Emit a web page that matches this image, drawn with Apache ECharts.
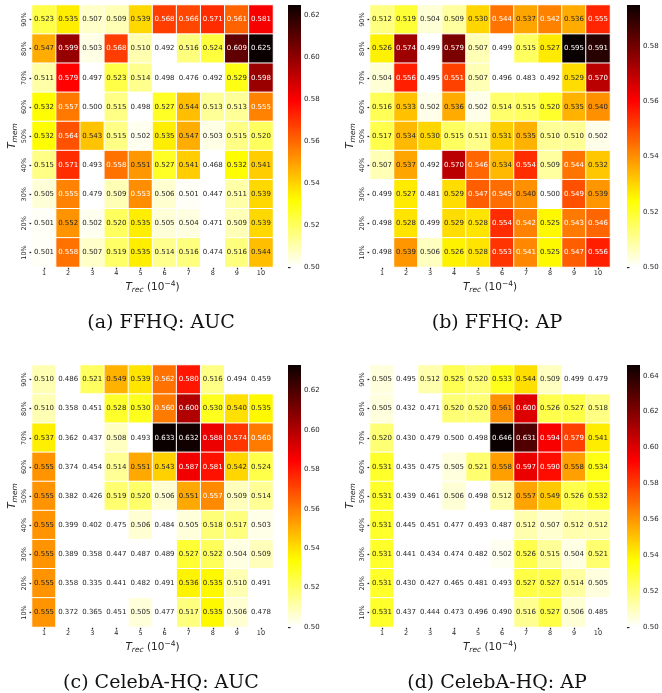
<!DOCTYPE html>
<html><head><meta charset="utf-8">
<script src="https://cdn.jsdelivr.net/npm/echarts@6/dist/echarts.min.js"></script>
<style>html,body{margin:0;padding:0;background:#fff}#c{width:662px;height:693px}</style>
</head><body><div id="c"></div>
<script>
// ---------- data ----------
const xCats = ['1','2','3','4','5','6','7','8','9','10'];
const yCats = ['10%','20%','30%','40%','50%','60%','70%','80%','90%'];
// rows listed from top (90%) to bottom (10%)
const ffhqAUC = [
 [0.523,0.535,0.507,0.509,0.539,0.568,0.566,0.571,0.561,0.581],
 [0.547,0.599,0.503,0.568,0.510,0.492,0.516,0.524,0.609,0.625],
 [0.511,0.579,0.497,0.523,0.514,0.498,0.476,0.492,0.529,0.598],
 [0.532,0.557,0.500,0.515,0.498,0.527,0.544,0.513,0.513,0.555],
 [0.532,0.564,0.543,0.515,0.502,0.535,0.547,0.503,0.515,0.520],
 [0.515,0.571,0.493,0.558,0.551,0.527,0.541,0.468,0.532,0.541],
 [0.505,0.555,0.479,0.509,0.553,0.506,0.501,0.447,0.511,0.539],
 [0.501,0.552,0.502,0.520,0.535,0.505,0.504,0.471,0.509,0.539],
 [0.501,0.558,0.507,0.519,0.535,0.514,0.516,0.474,0.516,0.544]];
const ffhqAP = [
 [0.512,0.519,0.504,0.509,0.530,0.544,0.537,0.542,0.536,0.555],
 [0.526,0.574,0.499,0.579,0.507,0.499,0.515,0.527,0.595,0.591],
 [0.504,0.556,0.495,0.551,0.507,0.496,0.483,0.492,0.529,0.570],
 [0.516,0.533,0.502,0.536,0.502,0.514,0.515,0.520,0.535,0.540],
 [0.517,0.534,0.530,0.515,0.511,0.531,0.535,0.510,0.510,0.502],
 [0.507,0.537,0.492,0.570,0.546,0.534,0.554,0.509,0.544,0.532],
 [0.499,0.527,0.481,0.529,0.547,0.545,0.540,0.500,0.549,0.539],
 [0.498,0.528,0.499,0.529,0.528,0.554,0.542,0.525,0.543,0.546],
 [0.498,0.539,0.506,0.526,0.528,0.553,0.541,0.525,0.547,0.556]];
const celebAUC = [
 [0.510,0.486,0.521,0.549,0.539,0.562,0.580,0.516,0.494,0.459],
 [0.510,0.358,0.451,0.528,0.530,0.560,0.600,0.530,0.540,0.535],
 [0.537,0.362,0.437,0.508,0.493,0.633,0.632,0.588,0.574,0.560],
 [0.555,0.374,0.454,0.514,0.551,0.543,0.587,0.581,0.542,0.524],
 [0.555,0.382,0.426,0.519,0.520,0.506,0.551,0.557,0.509,0.514],
 [0.555,0.399,0.402,0.475,0.506,0.484,0.505,0.518,0.517,0.503],
 [0.555,0.389,0.358,0.447,0.487,0.489,0.527,0.522,0.504,0.509],
 [0.555,0.358,0.335,0.441,0.482,0.491,0.536,0.535,0.510,0.491],
 [0.555,0.372,0.365,0.451,0.505,0.477,0.517,0.535,0.506,0.478]];
const celebAP = [
 [0.505,0.495,0.512,0.525,0.520,0.533,0.544,0.509,0.499,0.479],
 [0.505,0.432,0.471,0.520,0.520,0.561,0.600,0.526,0.527,0.518],
 [0.520,0.430,0.479,0.500,0.498,0.646,0.631,0.594,0.579,0.541],
 [0.531,0.435,0.475,0.505,0.521,0.558,0.597,0.590,0.558,0.534],
 [0.531,0.439,0.461,0.506,0.498,0.512,0.557,0.549,0.526,0.532],
 [0.531,0.445,0.451,0.477,0.493,0.487,0.512,0.507,0.512,0.512],
 [0.531,0.441,0.434,0.474,0.482,0.502,0.526,0.515,0.504,0.521],
 [0.531,0.430,0.427,0.465,0.481,0.493,0.527,0.527,0.514,0.505],
 [0.531,0.437,0.444,0.473,0.496,0.490,0.516,0.527,0.506,0.485]];
const cbTicksA = [0.50,0.52,0.54,0.56,0.58,0.60,0.62];
const cbTicksB = [0.50,0.52,0.54,0.56,0.58];
const cbTicksC = [0.50,0.52,0.54,0.56,0.58,0.60,0.62];
const cbTicksD = [0.50,0.52,0.54,0.56,0.58,0.60,0.62,0.64];
const captions = ['(a) FFHQ: AUC','(b) FFHQ: AP','(c) CelebA-HQ: AUC','(d) CelebA-HQ: AP'];
const vminAll = 0.5;

const panelData = [ffhqAUC, ffhqAP, celebAUC, celebAP];
const panelTicks = [cbTicksA, cbTicksB, cbTicksC, cbTicksD];

// ---------- layout ----------
const layout = [
  {left:32,  top:5,   w:241, h:262, cb:288, capX:161, capY:323},
  {left:370, top:5,   w:240, h:262, cb:627, capX:497, capY:323},
  {left:32,  top:365, w:241, h:262, cb:288, capX:161, capY:683},
  {left:370, top:365, w:240, h:262, cb:627, capX:497, capY:683}
];

// hot_r colormap
function hotR(t){
  const x = 1 - Math.min(1, Math.max(0, t));
  const r = x < 0.365079 ? 0.0416 + (1-0.0416)*x/0.365079 : 1;
  const g = x < 0.365079 ? 0 : (x < 0.746032 ? (x-0.365079)/(0.746032-0.365079) : 1);
  const b = x < 0.746032 ? 0 : (x-0.746032)/(1-0.746032);
  return [r,g,b];
}
function toHex(c){return '#'+c.map(v=>Math.round(v*255).toString(16).padStart(2,'0')).join('');}
const hotColors = [];
for(let i=0;i<=128;i++) hotColors.push(toHex(hotR(i/128)));
const gradStops = hotColors.map((c,i)=>({offset:i/(hotColors.length-1), color:c}));
function lum(c){
  const l = c.map(v=> v<=0.03928 ? v/12.92 : Math.pow((v+0.055)/1.055,2.4));
  return 0.2126*l[0]+0.7152*l[1]+0.0722*l[2];
}

const FONT = 'DejaVu Sans';
const TXT = '#262626';
const nameRich = {
  it:{fontFamily:FONT, fontStyle:'italic', fontSize:10.5, color:TXT},
  n:{fontFamily:FONT, fontSize:10.5, color:TXT},
  sub:{fontFamily:FONT, fontStyle:'italic', fontSize:7.5, color:TXT, padding:[6,0,0,0]},
  sup:{fontFamily:FONT, fontSize:7.5, color:TXT, padding:[0,0,6,0]}
};

const grid=[], xAxis=[], yAxis=[], series=[], visualMap=[], graphic=[];
panelData.forEach((rows, p)=>{
  const L = layout[p];
  const gi = 2*p, ci = 2*p+1;
  const vmax = Math.max(...rows.flat());
  const data = [];
  rows.forEach((row, ri)=>{
    const yi = yCats.length - 1 - ri;
    row.forEach((v, xi)=>{
      const c = hotR((v - vminAll)/(vmax - vminAll));
      data.push({value:[xi, yi, v], label:{color: lum(c) > 0.408 ? TXT : '#ffffff'}});
    });
  });
  grid.push({left:L.left, top:L.top, width:L.w, height:L.h, containLabel:false});
  xAxis.push({type:'category', gridIndex:gi, data:xCats, position:'bottom',
    axisLine:{show:false}, axisTick:{show:true, alignWithLabel:true, length:2.5, lineStyle:{color:'#262626', width:1.3}},
    axisLabel:{fontFamily:FONT, fontSize:6.5, color:TXT, margin:3},
    splitLine:{show:false},
    name:'{it|T}{sub|rec}{n| (10}{sup|−4}{n|)}', nameLocation:'middle', nameGap:13,
    nameTextStyle:{rich:nameRich}});
  yAxis.push({type:'category', gridIndex:gi, data:yCats,
    axisLine:{show:false}, axisTick:{show:true, alignWithLabel:true, length:2.5, lineStyle:{color:'#262626', width:1.3}},
    axisLabel:{fontFamily:FONT, fontSize:6.5, color:TXT, rotate:90, margin:4},
    splitLine:{show:false},
    name:'{it|T}{sub|mem}', nameLocation:'middle', nameGap:13, nameRotate:90,
    nameTextStyle:{rich:nameRich}});
  const si = series.length;
  series.push({type:'heatmap', xAxisIndex:gi, yAxisIndex:gi, data:data,
    itemStyle:{borderColor:'#ffffff', borderWidth:1},
    label:{show:true, fontFamily:FONT, fontSize:7,
      formatter:(d)=>d.value[2].toFixed(3)},
    emphasis:{disabled:true}, progressive:0, animation:false});
  visualMap.push({type:'continuous', seriesIndex:si, dimension:2, min:vminAll, max:vmax,
    calculable:false, show:false,
    inRange:{color:hotColors}, outOfRange:{color:['#ffffff']}});
  // colorbar
  grid.push({left:L.cb, top:L.top, width:13, height:L.h});
  xAxis.push({type:'value', gridIndex:ci, show:false, min:0, max:1});
  yAxis.push({type:'value', gridIndex:ci, position:'right', min:vminAll, max:vmax,
    axisLine:{show:false}, splitLine:{show:false},
    axisTick:{show:true, length:2.5, customValues:panelTicks[p], lineStyle:{color:'#262626', width:1.3}},
    axisLabel:{show:true, customValues:panelTicks[p], fontFamily:FONT, fontSize:7, color:TXT, margin:3,
      formatter:(v)=>v.toFixed(2)}});
  series.push({type:'custom', xAxisIndex:ci, yAxisIndex:ci, silent:true, clip:false,
    data:[[vminAll, vmax]],
    renderItem:(params, api)=>{
      const p0 = api.coord([0, api.value(0)]);
      const p1 = api.coord([1, api.value(1)]);
      return {type:'rect', shape:{x:p0[0], y:p1[1], width:p1[0]-p0[0], height:p0[1]-p1[1]},
        style:{fill:new echarts.graphic.LinearGradient(0,1,0,0, gradStops)}};
    }});
  graphic.push({type:'text', x:L.capX, y:L.capY,
    style:{text:captions[p], fontFamily:'DejaVu Serif', fontSize:19, fill:'#111', align:'center', verticalAlign:'middle'}});
});

const chart = echarts.init(document.getElementById('c'), null, {renderer:'canvas'});
chart.setOption({animation:false, backgroundColor:'#ffffff', grid, xAxis, yAxis, series, visualMap, graphic});
</script>
</body></html>
